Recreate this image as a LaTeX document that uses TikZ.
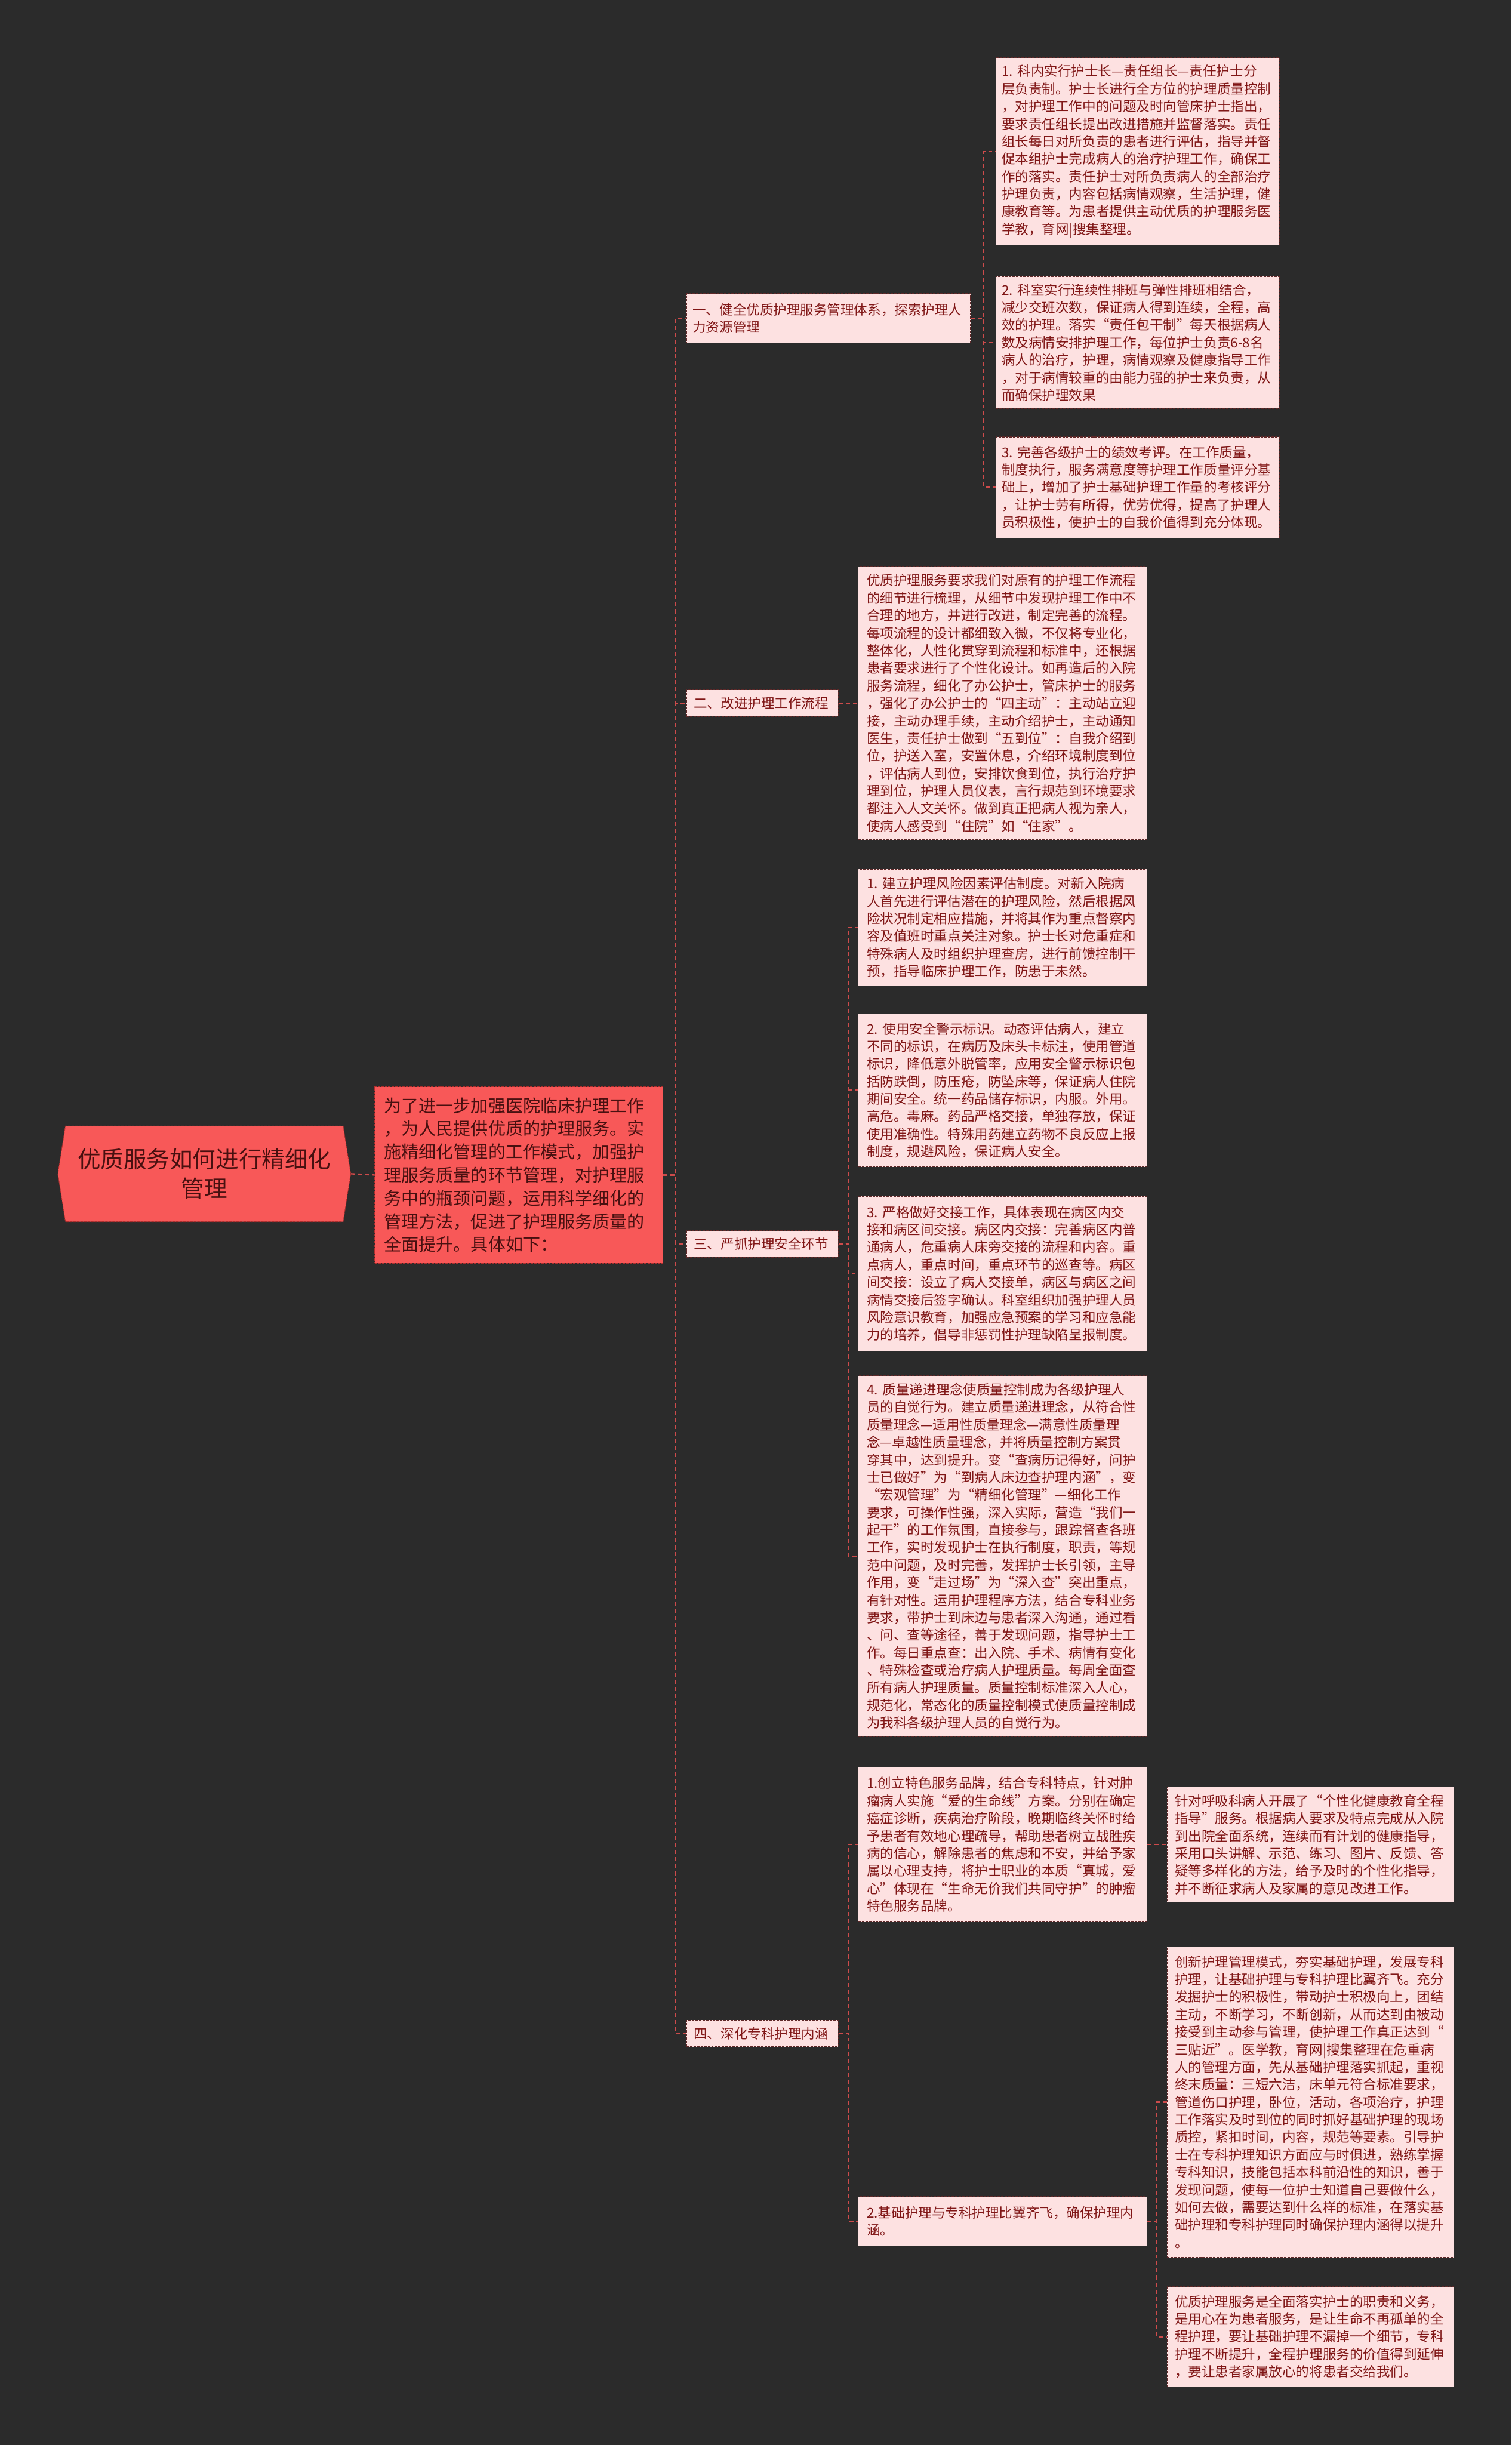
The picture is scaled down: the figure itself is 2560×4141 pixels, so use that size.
\documentclass[tikz,border=0pt]{standalone}
\usepackage{fontspec}
\setmainfont{Noto Sans CJK SC}
\usetikzlibrary{shapes.symbols}
\definecolor{bg}{RGB}{43,43,43}
\definecolor{hot}{RGB}{248,88,88}
\definecolor{hotline}{RGB}{175,45,45}
\definecolor{hottext}{RGB}{72,16,16}
\definecolor{pinkfill}{RGB}{253,225,225}
\definecolor{leaftext}{RGB}{128,22,22}
\definecolor{leafline}{RGB}{95,40,40}
\definecolor{conncol}{RGB}{205,75,75}
\tikzset{
  conn/.style={draw=conncol, line width=1.2pt, dash pattern=on 3.5pt off 2.5pt},
  rootbox/.style={signal, signal to=east and west, signal pointer angle=162,
    fill=hot, draw=hotline, line width=0.5pt, dash pattern=on 2pt off 1pt,
    text=hottext, font=\fontsize{19.5}{25}\selectfont, align=center,
    minimum width=248pt, minimum height=81pt, inner sep=2pt},
  mainbox/.style={rectangle, fill=hot, draw=hotline, line width=0.6pt, dash pattern=on 2pt off 1pt,
    text=hottext, font=\fontsize{14.7}{19.6}\selectfont, align=left,
    text width=228pt, inner xsep=8pt, inner ysep=3pt, anchor=west},
  leafbox/.style={rectangle, fill=pinkfill, draw=leafline, line width=0.6pt, dash pattern=on 2pt off 1pt,
    text=leaftext, font=\fontsize{11.4}{14.85}\selectfont, align=left,
    text width=230pt, inner xsep=#1, inner ysep=3pt, anchor=west},
  leafbox/.default=7.25pt,
  branchbox/.style={leafbox=6.25pt, text width=116pt, minimum height=22.5pt}
}
\begin{document}
\begin{tikzpicture}[x=0.5pt,y=-0.5pt]
\fill[bg] (0,0) rectangle (2560,4141);
\useasboundingbox (0,0) rectangle (2560,4141);

\node[rootbox] (root) at (346,1988) {优质服务如何进行精细化\\管理};

\node[mainbox, minimum height=149.5pt] (main) at (634,1990) {为了进一步加强医院临床护理工作\\，为人民提供优质的护理服务。实\\施精细化管理的工作模式，加强护\\理服务质量的环节管理，对护理服\\务中的瓶颈问题，运用科学细化的\\管理方法，促进了护理服务质量的\\全面提升。具体如下：};

% branches
\node[leafbox=5.25pt, minimum height=42pt] (B1) at (1162,539) {一、健全优质护理服务管理体系，探索护理人\\力资源管理};
\node[branchbox] (B2) at (1162,1191) {二、改进护理工作流程};
\node[branchbox] (B3) at (1162,2107) {三、严抓护理安全环节};
\node[branchbox] (B4) at (1162,3444) {四、深化专科护理内涵};

% branch 1 leaves
\node[leafbox=5pt, minimum height=158.5pt] (L11) at (1686,256.5) {1.~科内实行护士长—责任组长—责任护士分\\层负责制。护士长进行全方位的护理质量控制\\，对护理工作中的问题及时向管床护士指出，\\要求责任组长提出改进措施并监督落实。责任\\组长每日对所负责的患者进行评估，指导并督\\促本组护士完成病人的治疗护理工作，确保工\\作的落实。责任护士对所负责病人的全部治疗\\护理负责，内容包括病情观察，生活护理，健\\康教育等。为患者提供主动优质的护理服务医\\学教，育网|搜集整理。};
\node[leafbox=5pt, minimum height=112pt] (L12) at (1686,580) {2.~科室实行连续性排班与弹性排班相结合，\\减少交班次数，保证病人得到连续，全程，高\\效的护理。落实“责任包干制”每天根据病人\\数及病情安排护理工作，每位护士负责6-8名\\病人的治疗，护理，病情观察及健康指导工作\\，对于病情较重的由能力强的护士来负责，从\\而确保护理效果};
\node[leafbox=5pt, minimum height=85.5pt] (L13) at (1686,825.5) {3.~完善各级护士的绩效考评。在工作质量，\\制度执行，服务满意度等护理工作质量评分基\\础上，增加了护士基础护理工作量的考核评分\\，让护士劳有所得，优劳优得，提高了护理人\\员积极性，使护士的自我价值得到充分体现。};

% branch 2 leaf
\node[leafbox, minimum height=231pt] (L2) at (1453,1191) {优质护理服务要求我们对原有的护理工作流程\\的细节进行梳理，从细节中发现护理工作中不\\合理的地方，并进行改进，制定完善的流程。\\每项流程的设计都细致入微，不仅将专业化，\\整体化，人性化贯穿到流程和标准中，还根据\\患者要求进行了个性化设计。如再造后的入院\\服务流程，细化了办公护士，管床护士的服务\\，强化了办公护士的“四主动”：主动站立迎\\接，主动办理手续，主动介绍护士，主动通知\\医生，责任护士做到“五到位”：自我介绍到\\位，护送入室，安置休息，介绍环境制度到位\\，评估病人到位，安排饮食到位，执行治疗护\\理到位，护理人员仪表，言行规范到环境要求\\都注入人文关怀。做到真正把病人视为亲人，\\使病人感受到“住院”如“住家”。};

% branch 3 leaves
\node[leafbox, minimum height=99pt] (L31) at (1453,1571) {1.~建立护理风险因素评估制度。对新入院病\\人首先进行评估潜在的护理风险，然后根据风\\险状况制定相应措施，并将其作为重点督察内\\容及值班时重点关注对象。护士长对危重症和\\特殊病人及时组织护理查房，进行前馈控制干\\预，指导临床护理工作，防患于未然。};
\node[leafbox, minimum height=129.5pt] (L32) at (1453,1846.5) {2.~使用安全警示标识。动态评估病人，建立\\不同的标识，在病历及床头卡标注，使用管道\\标识，降低意外脱管率，应用安全警示标识包\\括防跌倒，防压疮，防坠床等，保证病人住院\\期间安全。统一药品储存标识，内服。外用。\\高危。毒麻。药品严格交接，单独存放，保证\\使用准确性。特殊用药建立药物不良反应上报\\制度，规避风险，保证病人安全。};
\node[leafbox, minimum height=131pt] (L33) at (1453,2157) {3.~严格做好交接工作，具体表现在病区内交\\接和病区间交接。病区内交接：完善病区内普\\通病人，危重病人床旁交接的流程和内容。重\\点病人，重点时间，重点环节的巡查等。病区\\间交接：设立了病人交接单，病区与病区之间\\病情交接后签字确认。科室组织加强护理人员\\风险意识教育，加强应急预案的学习和应急能\\力的培养，倡导非惩罚性护理缺陷呈报制度。};
\node[leafbox, minimum height=305.5pt] (L34) at (1453,2635.5) {4.~质量递进理念使质量控制成为各级护理人\\员的自觉行为。建立质量递进理念，从符合性\\质量理念—适用性质量理念—满意性质量理\\念—卓越性质量理念，并将质量控制方案贯\\穿其中，达到提升。变“查病历记得好，问护\\士已做好”为“到病人床边查护理内涵”，变\\“宏观管理”为“精细化管理”—细化工作\\要求，可操作性强，深入实际，营造“我们一\\起干”的工作氛围，直接参与，跟踪督查各班\\工作，实时发现护士在执行制度，职责，等规\\范中问题，及时完善，发挥护士长引领，主导\\作用，变“走过场”为“深入查”突出重点，\\有针对性。运用护理程序方法，结合专科业务\\要求，带护士到床边与患者深入沟通，通过看\\、问、查等途径，善于发现问题，指导护士工\\作。每日重点查：出入院、手术、病情有变化\\、特殊检查或治疗病人护理质量。每周全面查\\所有病人护理质量。质量控制标准深入人心，\\规范化，常态化的质量控制模式使质量控制成\\为我科各级护理人员的自觉行为。};

% branch 4 leaves
\node[leafbox, minimum height=131pt] (L41) at (1453,3124) {1.创立特色服务品牌，结合专科特点，针对肿\\瘤病人实施“爱的生命线”方案。分别在确定\\癌症诊断，疾病治疗阶段，晚期临终关怀时给\\予患者有效地心理疏导，帮助患者树立战胜疾\\病的信心，解除患者的焦虑和不安，并给予家\\属以心理支持，将护士职业的本质“真城，爱\\心”体现在“生命无价我们共同守护”的肿瘤\\特色服务品牌。};
\node[leafbox=6.5pt, minimum height=97.5pt] (L41c) at (1976,3124) {针对呼吸科病人开展了“个性化健康教育全程\\指导”服务。根据病人要求及特点完成从入院\\到出院全面系统，连续而有计划的健康指导，\\采用口头讲解、示范、练习、图片、反馈、答\\疑等多样化的方法，给予及时的个性化指导，\\并不断征求病人及家属的意见改进工作。};
\node[leafbox, minimum height=42pt] (L42) at (1453,3762) {2.基础护理与专科护理比翼齐飞，确保护理内\\涵。};
\node[leafbox=6.5pt, minimum height=263pt] (L421) at (1976,3560) {创新护理管理模式，夯实基础护理，发展专科\\护理，让基础护理与专科护理比翼齐飞。充分\\发掘护士的积极性，带动护士积极向上，团结\\主动，不断学习，不断创新，从而达到由被动\\接受到主动参与管理，使护理工作真正达到“\\三贴近”。医学教，育网|搜集整理在危重病\\人的管理方面，先从基础护理落实抓起，重视\\终末质量：三短六洁，床单元符合标准要求，\\管道伤口护理，卧位，活动，各项治疗，护理\\工作落实及时到位的同时抓好基础护理的现场\\质控，紧扣时间，内容，规范等要素。引导护\\士在专科护理知识方面应与时俱进，熟练掌握\\专科知识，技能包括本科前沿性的知识，善于\\发现问题，使每一位护士知道自己要做什么，\\如何去做，需要达到什么样的标准，在落实基\\础护理和专科护理同时确保护理内涵得以提升\\。};
\node[leafbox=6.5pt, minimum height=84.5pt] (L422) at (1976,3957.5) {优质护理服务是全面落实护士的职责和义务，\\是用心在为患者服务，是让生命不再孤单的全\\程护理，要让基础护理不漏掉一个细节，专科\\护理不断提升，全程护理服务的价值得到延伸\\，要让患者家属放心的将患者交给我们。};

% connectors
\draw[conn] (root.east) -- (main.west);
\foreach \b in {B1,B2,B3,B4} \draw[conn] (main.east) -- ++(21,0) |- (\b.west);
\foreach \l in {L11,L12,L13} \draw[conn] (B1.east) -- ++(22,0) |- (\l.west);
\draw[conn] (B2.east) -- (L2.west);
\foreach \l in {L31,L32,L33,L34} \draw[conn] (B3.east) -- ++(17,0) |- (\l.west);
\foreach \l in {L41,L42} \draw[conn] (B4.east) -- ++(17,0) |- (\l.west);
\draw[conn] (L41.east) -- (L41c.west);
\foreach \l in {L421,L422} \draw[conn] (L42.east) -- ++(16,0) |- (\l.west);
\end{tikzpicture}
\end{document}
